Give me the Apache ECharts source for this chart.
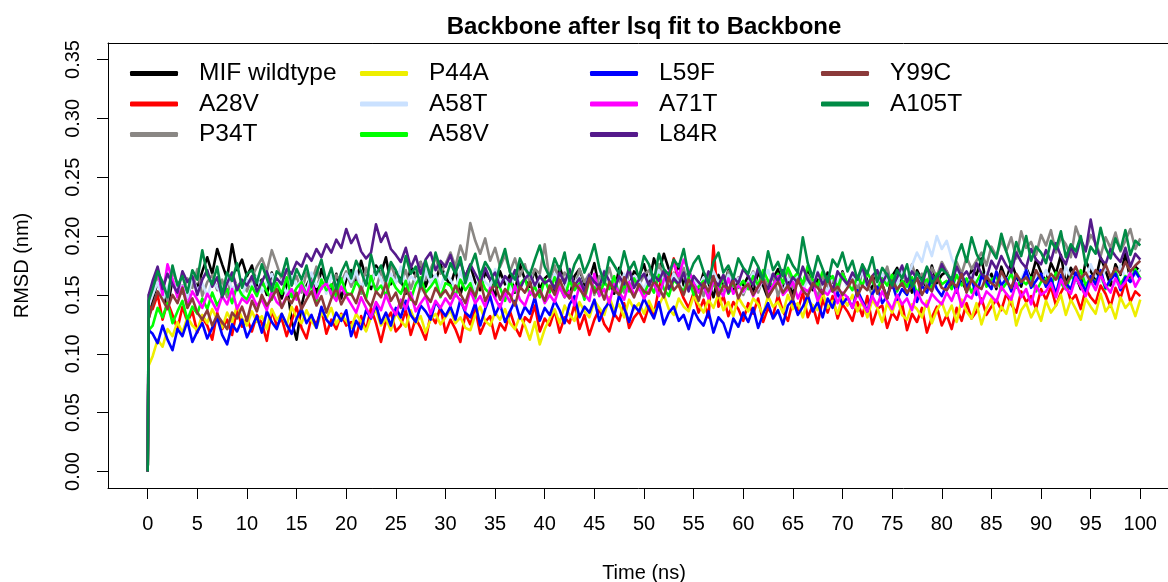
<!DOCTYPE html>
<html>
<head>
<meta charset="utf-8">
<script src="https://cdn.jsdelivr.net/npm/echarts@6/dist/echarts.min.js"></script>
<style>html,body{margin:0;padding:0;background:#fff}#chart{width:1168px;height:582px}</style>
</head>
<body>
<div id="chart"></div>
<script>
// Time axis (ns)
var times = [0,0.1,
0.5,1,1.5,2,2.5,3,3.5,4,4.5,5,5.5,6,6.5,7,7.5,8,8.5,9,9.5,10,
10.5,11,11.5,12,12.5,13,13.5,14,14.5,15,15.5,16,16.5,17,17.5,18,18.5,19,19.5,20,
20.5,21,21.5,22,22.5,23,23.5,24,24.5,25,25.5,26,26.5,27,27.5,28,28.5,29,29.5,30,
30.5,31,31.5,32,32.5,33,33.5,34,34.5,35,35.5,36,36.5,37,37.5,38,38.5,39,39.5,40,
40.5,41,41.5,42,42.5,43,43.5,44,44.5,45,45.5,46,46.5,47,47.5,48,48.5,49,49.5,50,
50.5,51,51.5,52,52.5,53,53.5,54,54.5,55,55.5,56,56.5,57,57.5,58,58.5,59,59.5,60,
60.5,61,61.5,62,62.5,63,63.5,64,64.5,65,65.5,66,66.5,67,67.5,68,68.5,69,69.5,70,
70.5,71,71.5,72,72.5,73,73.5,74,74.5,75,75.5,76,76.5,77,77.5,78,78.5,79,79.5,80,
80.5,81,81.5,82,82.5,83,83.5,84,84.5,85,85.5,86,86.5,87,87.5,88,88.5,89,89.5,90,
90.5,91,91.5,92,92.5,93,93.5,94,94.5,95,95.5,96,96.5,97,97.5,98,98.5,99,99.5,100];

var xTicks = [0,5,10,15,20,25,30,35,40,45,50,55,60,65,70,75,80,85,90,95,100];
var yTicks = [0,0.05,0.10,0.15,0.20,0.25,0.30,0.35];

var seriesNames = ['MIF wildtype','A28V','P34T','P44A','A58T','A58V','L59F','A71T','L84R','Y99C','A105T'];
var seriesColors = ['#000000','#FF0000','#8A8784','#EEEE00','#CAE1FF','#00FF00','#0000FF','#FF00FF','#551A8B','#8B3A3A','#008B45'];

// RMSD (nm)
var mifWildtype = [0,.130,
.146,.161,.155,.139,.163,.150,.158,.147,.165,.156,.170,.182,.168,.189,.176,.164,.193,.171,.180,.166,
.175,.158,.163,.150,.169,.156,.147,.160,.128,.112,.141,.158,.166,.151,.172,.160,.153,.168,.147,.163,
.171,.160,.179,.164,.155,.175,.168,.182,.159,.170,.163,.151,.174,.166,.178,.157,.169,.161,.176,.165,
.158,.172,.150,.166,.175,.161,.154,.169,.163,.148,.170,.159,.167,.152,.176,.163,.157,.171,.155,.164,
.168,.153,.174,.160,.149,.166,.172,.158,.163,.177,.155,.169,.161,.151,.173,.164,.158,.170,.166,.176,
.160,.181,.169,.185,.172,.163,.176,.158,.170,.162,.154,.169,.160,.148,.167,.156,.171,.152,.163,.158,
.166,.151,.170,.158,.147,.164,.172,.156,.162,.150,.168,.159,.173,.154,.163,.148,.169,.161,.156,.170,
.157,.168,.151,.174,.162,.155,.170,.159,.147,.166,.173,.158,.165,.152,.171,.163,.156,.175,.160,.167,
.170,.158,.176,.163,.153,.172,.167,.181,.159,.168,.155,.174,.162,.178,.166,.157,.173,.164,.180,.169,
.161,.177,.168,.184,.159,.173,.166,.155,.179,.170,.163,.182,.171,.158,.176,.167,.185,.162,.174,.170];

var a28v = [0,.140,
.138,.150,.129,.144,.133,.121,.140,.127,.136,.118,.131,.124,.112,.135,.121,.129,.116,.138,.123,.130,
.119,.133,.126,.111,.137,.124,.130,.115,.128,.140,.122,.113,.131,.125,.138,.117,.129,.121,.134,.124,
.127,.114,.132,.120,.139,.126,.110,.128,.135,.119,.124,.137,.116,.130,.122,.112,.133,.126,.140,.118,
.129,.121,.110,.134,.125,.138,.117,.127,.132,.113,.126,.120,.136,.123,.115,.131,.127,.141,.119,.130,
.124,.137,.118,.131,.126,.142,.121,.133,.116,.129,.138,.125,.119,.134,.128,.143,.122,.131,.136,.127,
.141,.133,.156,.170,.163,.181,.158,.147,.139,.152,.135,.146,.131,.192,.140,.149,.132,.144,.138,.128,
.143,.134,.147,.127,.139,.132,.150,.136,.128,.145,.137,.152,.131,.141,.126,.146,.135,.149,.130,.142,
.136,.128,.144,.132,.149,.125,.138,.141,.122,.135,.129,.143,.120,.134,.127,.139,.118,.131,.140,.124,
.133,.121,.139,.128,.143,.130,.136,.147,.133,.140,.146,.137,.151,.142,.135,.153,.144,.149,.138,.155,
.146,.157,.141,.152,.160,.145,.150,.138,.155,.148,.143,.158,.151,.140,.156,.147,.161,.144,.153,.149];

var p34t = [0,.150,
.152,.166,.158,.145,.170,.160,.151,.164,.156,.172,.149,.161,.167,.154,.163,.148,.169,.157,.162,.153,
.165,.174,.181,.170,.188,.176,.163,.171,.158,.166,.152,.169,.160,.174,.155,.163,.149,.167,.161,.170,
.157,.168,.151,.173,.162,.155,.170,.159,.176,.164,.160,.171,.155,.167,.178,.163,.172,.182,.168,.176,
.186,.174,.192,.180,.211,.196,.185,.198,.179,.190,.174,.184,.170,.181,.166,.176,.160,.172,.168,.193,
.162,.175,.158,.169,.164,.155,.172,.161,.168,.150,.166,.159,.173,.157,.164,.152,.170,.161,.158,.167,
.171,.160,.176,.165,.157,.169,.162,.173,.154,.166,.160,.149,.168,.158,.163,.153,.170,.157,.165,.150,
.161,.170,.152,.165,.158,.168,.149,.162,.171,.156,.164,.153,.167,.159,.148,.166,.157,.163,.151,.169,
.158,.166,.153,.171,.160,.149,.167,.162,.174,.157,.165,.170,.159,.176,.163,.168,.157,.173,.166,.178,
.170,.161,.178,.168,.182,.172,.179,.186,.175,.191,.183,.196,.187,.199,.181,.204,.190,.195,.184,.201,
.192,.205,.186,.199,.193,.182,.208,.196,.188,.201,.194,.183,.199,.190,.203,.187,.196,.206,.189,.198];

var p44a = [0,.090,
.098,.112,.106,.121,.115,.127,.118,.131,.124,.120,.133,.126,.138,.129,.122,.135,.127,.141,.130,.124,
.136,.127,.132,.121,.138,.129,.134,.124,.140,.131,.126,.137,.128,.122,.135,.130,.139,.125,.133,.128,
.122,.134,.127,.119,.131,.137,.124,.130,.120,.135,.128,.123,.137,.126,.132,.118,.129,.134,.125,.131,
.137,.126,.131,.122,.120,.133,.140,.128,.124,.135,.129,.138,.126,.121,.132,.124,.112,.127,.108,.121,
.130,.138,.126,.141,.133,.128,.144,.136,.131,.145,.139,.133,.148,.137,.142,.131,.146,.138,.143,.134,
.145,.136,.141,.150,.138,.133,.147,.140,.136,.149,.142,.135,.146,.139,.151,.137,.144,.132,.148,.141,
.136,.147,.142,.133,.149,.140,.144,.135,.150,.138,.143,.131,.146,.141,.137,.152,.139,.145,.134,.148,
.141,.150,.136,.144,.131,.146,.139,.127,.143,.135,.148,.133,.129,.142,.138,.131,.145,.126,.137,.144,
.132,.141,.127,.146,.136,.130,.143,.125,.138,.147,.129,.140,.134,.149,.124,.137,.143,.131,.139,.128,
.145,.135,.141,.150,.133,.146,.138,.129,.147,.140,.134,.151,.136,.142,.130,.148,.139,.144,.132,.146];

var a58t = [0,.140,
.150,.161,.145,.157,.163,.152,.158,.147,.165,.154,.160,.149,.162,.156,.151,.166,.155,.159,.148,.163,
.157,.166,.152,.161,.168,.155,.163,.150,.167,.158,.162,.153,.169,.157,.164,.151,.166,.160,.155,.168,
.161,.170,.156,.165,.159,.172,.163,.154,.168,.160,.174,.158,.166,.162,.153,.171,.160,.167,.156,.169,
.163,.155,.170,.159,.166,.152,.168,.161,.157,.172,.160,.165,.154,.169,.158,.163,.171,.155,.166,.160,
.157,.168,.161,.154,.170,.159,.165,.152,.167,.162,.156,.171,.160,.164,.153,.168,.158,.166,.162,.155,
.166,.158,.171,.162,.155,.168,.160,.153,.169,.163,.157,.165,.151,.170,.161,.156,.167,.159,.164,.152,
.160,.169,.155,.163,.171,.158,.166,.152,.164,.160,.168,.155,.162,.157,.170,.159,.153,.166,.161,.167,
.156,.165,.160,.171,.154,.163,.158,.168,.161,.166,.159,.170,.164,.175,.186,.178,.195,.183,.200,.189,
.196,.181,.172,.164,.158,.167,.160,.155,.169,.162,.157,.166,.161,.170,.158,.164,.172,.160,.167,.163,
.171,.162,.168,.158,.174,.165,.160,.170,.163,.176,.166,.161,.173,.168,.159,.175,.164,.170,.167,.172];

var a58v = [0,.120,
.124,.139,.131,.143,.126,.136,.145,.129,.140,.134,.147,.138,.152,.141,.149,.155,.143,.158,.150,.146,
.157,.149,.162,.153,.146,.160,.151,.165,.148,.156,.161,.150,.158,.145,.163,.154,.159,.148,.164,.152,
.150,.161,.155,.147,.166,.153,.158,.149,.164,.156,.151,.162,.146,.159,.165,.152,.157,.163,.148,.160,
.158,.149,.163,.154,.160,.147,.165,.155,.151,.161,.156,.145,.162,.153,.159,.164,.150,.157,.148,.163,
.152,.165,.157,.148,.162,.154,.160,.146,.163,.156,.150,.161,.155,.166,.149,.158,.153,.164,.157,.151,
.160,.152,.167,.155,.149,.163,.158,.153,.165,.150,.157,.162,.148,.160,.154,.166,.151,.159,.156,.162,
.155,.166,.158,.171,.162,.157,.168,.160,.173,.164,.169,.159,.175,.163,.158,.170,.161,.166,.156,.168,
.160,.154,.166,.158,.169,.161,.155,.164,.158,.167,.153,.162,.157,.165,.151,.160,.163,.156,.168,.159,
.162,.155,.167,.158,.164,.152,.161,.169,.157,.163,.166,.154,.160,.168,.156,.163,.159,.165,.153,.161,
.164,.157,.169,.160,.155,.166,.162,.171,.158,.165,.161,.168,.155,.163,.170,.159,.166,.162,.172,.164];

var l59f = [0,.120,
.117,.109,.124,.112,.103,.121,.115,.128,.110,.119,.126,.113,.122,.131,.116,.108,.125,.119,.129,.114,
.123,.132,.118,.136,.127,.121,.134,.125,.117,.130,.138,.126,.133,.122,.140,.129,.124,.135,.128,.137,
.115,.128,.121,.137,.130,.142,.126,.135,.124,.139,.131,.145,.133,.127,.141,.136,.129,.144,.138,.132,
.140,.129,.146,.135,.131,.143,.124,.138,.149,.133,.142,.127,.136,.145,.130,.140,.134,.148,.128,.139,
.133,.145,.137,.126,.142,.149,.131,.140,.135,.146,.128,.138,.144,.132,.150,.139,.127,.141,.136,.147,
.138,.130,.144,.125,.135,.140,.128,.133,.121,.137,.129,.124,.136,.118,.131,.126,.114,.130,.123,.135,
.127,.139,.122,.134,.143,.130,.137,.125,.141,.146,.133,.140,.150,.136,.144,.131,.147,.139,.152,.142,
.148,.139,.154,.145,.136,.151,.157,.143,.149,.160,.146,.155,.150,.162,.144,.158,.152,.166,.155,.149,
.159,.165,.152,.168,.157,.163,.150,.166,.161,.155,.170,.158,.164,.153,.167,.160,.171,.156,.162,.168,
.157,.164,.151,.167,.160,.155,.169,.162,.153,.166,.159,.171,.156,.163,.168,.154,.165,.161,.170,.163];

var a71t = [0,.145,
.158,.172,.150,.176,.163,.148,.157,.141,.153,.146,.139,.151,.144,.136,.149,.142,.155,.138,.147,.143,
.150,.141,.146,.137,.153,.144,.140,.149,.155,.146,.158,.150,.162,.147,.156,.160,.151,.145,.157,.149,
.142,.135,.148,.139,.131,.144,.137,.150,.140,.133,.146,.138,.152,.136,.143,.149,.134,.145,.139,.147,
.141,.151,.145,.137,.154,.143,.149,.140,.156,.147,.139,.152,.144,.158,.146,.141,.153,.148,.155,.143,
.150,.144,.157,.148,.153,.141,.158,.151,.145,.168,.149,.155,.143,.159,.152,.146,.161,.150,.156,.147,
.154,.160,.149,.163,.170,.176,.166,.180,.171,.160,.152,.158,.147,.162,.155,.149,.164,.151,.158,.153,
.160,.149,.157,.163,.152,.158,.166,.150,.155,.161,.147,.156,.153,.159,.145,.154,.150,.157,.143,.152,
.148,.139,.151,.143,.136,.149,.141,.153,.145,.138,.150,.142,.147,.137,.153,.144,.140,.151,.146,.142,
.152,.145,.156,.140,.150,.147,.158,.143,.153,.149,.144,.157,.151,.146,.160,.148,.155,.142,.158,.150,
.153,.160,.148,.163,.155,.151,.165,.157,.149,.162,.154,.167,.158,.152,.164,.156,.161,.169,.157,.165];

var l84r = [0,.150,
.162,.174,.155,.168,.159,.152,.170,.161,.166,.150,.163,.171,.157,.165,.148,.160,.169,.154,.163,.158,
.166,.153,.161,.170,.157,.164,.159,.172,.168,.178,.174,.185,.179,.189,.182,.193,.186,.197,.190,.206,
.194,.201,.187,.181,.186,.210,.195,.203,.189,.184,.178,.190,.173,.183,.168,.180,.186,.171,.179,.174,
.184,.170,.178,.165,.176,.168,.160,.173,.163,.169,.157,.166,.161,.171,.155,.164,.168,.158,.166,.160,
.163,.155,.169,.160,.172,.158,.164,.153,.167,.161,.157,.170,.162,.154,.166,.159,.173,.156,.163,.168,
.158,.167,.162,.171,.155,.164,.159,.169,.153,.166,.161,.156,.170,.163,.158,.167,.152,.165,.160,.172,
.166,.158,.173,.161,.155,.168,.162,.171,.157,.165,.160,.174,.163,.156,.169,.159,.166,.153,.170,.164,
.159,.169,.163,.174,.158,.166,.171,.160,.168,.156,.165,.175,.161,.170,.164,.158,.173,.167,.162,.176,
.168,.160,.174,.165,.170,.162,.177,.168,.164,.179,.172,.183,.175,.169,.186,.178,.173,.189,.180,.176,
.188,.179,.194,.183,.176,.191,.182,.198,.187,.214,.192,.181,.176,.189,.183,.178,.190,.174,.185,.180];

var y99c = [0,.130,
.141,.153,.146,.138,.150,.143,.156,.139,.147,.135,.129,.137,.124,.133,.127,.121,.135,.130,.140,.128,
.145,.136,.150,.141,.147,.155,.139,.148,.143,.152,.138,.146,.153,.141,.149,.135,.147,.156,.142,.150,
.151,.143,.157,.146,.140,.153,.148,.160,.145,.152,.139,.155,.147,.142,.158,.150,.144,.156,.149,.154,
.147,.158,.151,.143,.156,.149,.162,.145,.153,.159,.146,.155,.150,.141,.157,.152,.161,.148,.154,.145,
.158,.150,.163,.153,.147,.160,.155,.149,.164,.152,.157,.146,.161,.154,.150,.165,.156,.148,.159,.153,
.151,.162,.156,.148,.165,.154,.159,.150,.163,.157,.145,.160,.153,.166,.149,.158,.155,.162,.147,.156,
.159,.150,.157,.164,.148,.155,.161,.152,.158,.146,.163,.154,.149,.160,.156,.151,.165,.153,.157,.150,
.156,.163,.149,.158,.154,.166,.151,.159,.147,.162,.155,.160,.152,.157,.164,.150,.158,.153,.165,.156,
.154,.161,.157,.168,.152,.163,.158,.155,.166,.160,.157,.170,.162,.156,.168,.161,.165,.158,.171,.163,
.160,.168,.163,.172,.159,.166,.174,.164,.169,.161,.171,.167,.176,.165,.173,.168,.178,.170,.175,.179];

var a105t = [0,.145,
.155,.170,.161,.148,.175,.158,.166,.152,.171,.163,.188,.167,.159,.174,.150,.169,.162,.177,.156,.168,
.171,.160,.176,.164,.153,.170,.166,.181,.158,.172,.163,.175,.157,.168,.180,.161,.173,.155,.169,.178,
.164,.179,.170,.158,.184,.167,.175,.162,.178,.171,.160,.183,.168,.174,.157,.179,.165,.186,.172,.163,
.177,.168,.182,.160,.174,.185,.166,.178,.171,.158,.176,.189,.169,.163,.181,.172,.167,.180,.192,.174,
.165,.181,.171,.186,.162,.176,.184,.169,.179,.193,.173,.160,.182,.175,.168,.187,.171,.178,.164,.183,
.176,.162,.185,.172,.167,.180,.174,.189,.166,.177,.183,.170,.160,.178,.186,.169,.175,.164,.181,.173,
.168,.182,.174,.163,.187,.171,.178,.166,.184,.175,.169,.199,.177,.165,.183,.172,.161,.180,.174,.186,
.170,.179,.163,.176,.168,.182,.161,.173,.167,.158,.171,.164,.176,.157,.169,.162,.174,.160,.166,.172,
.168,.163,.182,.193,.178,.199,.185,.176,.196,.188,.181,.202,.187,.174,.195,.183,.200,.179,.191,.186,
.177,.196,.189,.204,.182,.193,.187,.200,.175,.191,.185,.207,.190,.181,.198,.188,.205,.184,.196,.192];

var seriesValues = [mifWildtype,a28v,p34t,p44a,a58t,a58v,l59f,a71t,l84r,y99c,a105t];

var FONT = 'Liberation Sans, Arial, Helvetica, sans-serif';
var chart = echarts.init(document.getElementById('chart'), null, {renderer:'canvas'});

var series = seriesNames.map(function(name, i){
  var vals = seriesValues[i];
  return {
    name: name,
    type: 'line',
    xAxisIndex: 0,
    data: times.map(function(t, k){ return [t, vals[k]]; }),
    showSymbol: false,
    symbol: 'none',
    color: seriesColors[i],
    lineStyle: {width: 2.6, color: seriesColors[i], join: 'round'},
    animation: false,
    clip: true
  };
});

function legendCol(names, left){
  return {
    data: names, orient: 'vertical', left: left, top: 61, padding: 0,
    itemGap: 5.5, itemWidth: 48, itemHeight: 5, icon: 'roundRect',
    selectedMode: false,
    itemStyle: {borderWidth: 0},
    textStyle: {fontFamily: FONT, fontSize: 24.5, color: '#000', padding: [0,0,0,16], lineHeight: 25}
  };
}

var X_MIN = -4, X_MAX = 104;

chart.setOption({
  animation: false,
  backgroundColor: '#fff',
  title: {
    text: 'Backbone after lsq fit to Backbone',
    left: 644, top: 15, textAlign: 'center', padding: 0,
    textStyle: {fontFamily: FONT, fontSize: 24, fontWeight: 'bold', color: '#000'}
  },
  legend: [
    legendCol(['MIF wildtype','A28V','P34T'], 130),
    legendCol(['P44A','A58T','A58V'], 360),
    legendCol(['L59F','A71T','L84R'], 590),
    legendCol(['Y99C','A105T'], 821)
  ],
  grid: {left: 108, top: 43, width: 1072, height: 445, show: false, outerBoundsMode: 'none', containLabel: false},
  xAxis: [{
    type: 'value', min: X_MIN, max: X_MAX, position: 'bottom',
    name: 'Time (ns)', nameLocation: 'middle', nameGap: 75,
    nameTextStyle: {fontFamily: FONT, fontSize: 20, color: '#000'},
    axisLine: {show: true, onZero: false, lineStyle: {color: '#000', width: 1}},
    axisTick: {show: true, length: 11, lineStyle: {color: '#000'}, customValues: xTicks},
    axisLabel: {fontFamily: FONT, fontSize: 20, color: '#000', margin: 26, customValues: xTicks},
    splitLine: {show: false}
  }, {
    type: 'value', min: X_MIN, max: X_MAX, position: 'top',
    axisLine: {show: true, onZero: false, lineStyle: {color: '#000', width: 1}},
    axisTick: {show: false}, axisLabel: {show: false}, splitLine: {show: false}
  }],
  yAxis: {
    type: 'value', min: -0.014, max: 0.364,
    name: 'RMSD (nm)', nameLocation: 'middle', nameGap: 76, nameRotate: 90,
    nameTextStyle: {fontFamily: FONT, fontSize: 20, color: '#000'},
    axisLine: {show: true, onZero: false, lineStyle: {color: '#000', width: 1}},
    axisTick: {show: true, length: 11, lineStyle: {color: '#000'}, customValues: yTicks},
    axisLabel: {fontFamily: FONT, fontSize: 20, color: '#000', margin: 25, rotate: 90,
      customValues: yTicks, formatter: function(v){ return v.toFixed(2); }},
    splitLine: {show: false}
  },
  series: series
});
</script>
</body>
</html>
